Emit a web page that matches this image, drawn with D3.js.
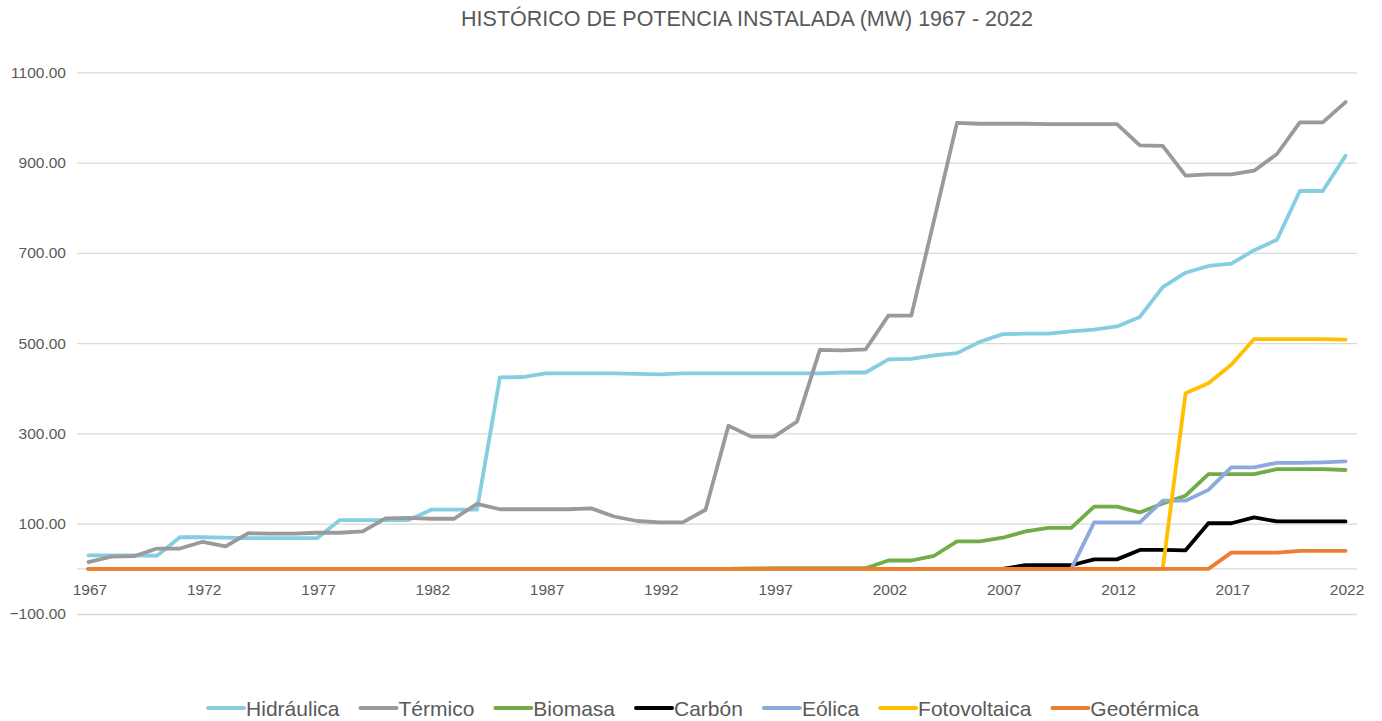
<!DOCTYPE html>
<html>
<head>
<meta charset="utf-8">
<script src="https://cdn.jsdelivr.net/npm/d3@7"></script>
<style>
  html, body { margin: 0; padding: 0; background: #ffffff; }
  svg { display: block; font-family: "Liberation Sans", Arial, sans-serif; }
</style>
</head>
<body>
<svg id="chart" width="1382" height="721"></svg>
<script>
const title = "HISTÓRICO DE POTENCIA INSTALADA (MW) 1967 - 2022";

const years = d3.range(1967, 2023);

const seriesNames = ["Hidráulica", "Térmico", "Biomasa", "Carbón", "Eólica", "Fotovoltaica", "Geotérmica"];
const seriesColors = ["#85cee1", "#9a9a9c", "#70ad47", "#000000", "#8eaadc", "#ffc000", "#ed7d31"];

const hidraulica = [30, 30, 30, 29, 70, 70, 69, 68, 68, 68,
  68, 108, 108, 108, 108, 131, 131, 131, 424, 425,
  433, 433, 433, 433, 432, 431, 433, 433, 433, 433,
  433, 433, 433, 435, 435, 464, 465, 473, 478, 503,
  520, 521, 521, 526, 530, 537, 558, 624, 656, 671,
  676, 706, 729, 837, 837, 915];

const termico = [15, 27, 28, 45, 45, 60, 50, 79, 78, 78,
  80, 80, 83, 112, 113, 111, 111, 144, 132, 132,
  132, 132, 134, 116, 106, 103, 103, 131, 317, 293,
  293, 326, 485, 484, 486, 561, 561, 773, 988, 986,
  986, 986, 985, 985, 985, 985, 938, 937, 871, 874,
  874, 882, 919, 989, 989, 1034];

const biomasa = [0, 0, 0, 0, 0, 0, 0, 0, 0, 0,
  0, 0, 0, 0, 0, 0, 0, 0, 0, 0,
  0, 0, 0, 0, 0, 0, 0, 0, 0, 1,
  1.5, 1.5, 1.5, 1.5, 1.5, 18.5, 18.5, 29, 61, 61,
  69, 83, 91, 91, 138, 138, 125, 145, 162, 210,
  210, 210, 221, 221, 221, 219];

const carbon = [0, 0, 0, 0, 0, 0, 0, 0, 0, 0,
  0, 0, 0, 0, 0, 0, 0, 0, 0, 0,
  0, 0, 0, 0, 0, 0, 0, 0, 0, 0,
  0, 0, 0, 0, 0, 0, 0, 0, 0, 0,
  0, 8, 8, 8, 21, 21, 42, 42, 41, 101,
  101, 114, 105, 105, 105, 105];

const eolica = [0, 0, 0, 0, 0, 0, 0, 0, 0, 0,
  0, 0, 0, 0, 0, 0, 0, 0, 0, 0,
  0, 0, 0, 0, 0, 0, 0, 0, 0, 0,
  0, 0, 0, 0, 0, 0, 0, 0, 0, 0,
  0, 0, 0, 0, 103, 103, 103, 151, 151, 175,
  225, 225, 235, 235, 236, 238];

const fotovoltaica = [0, 0, 0, 0, 0, 0, 0, 0, 0, 0,
  0, 0, 0, 0, 0, 0, 0, 0, 0, 0,
  0, 0, 0, 0, 0, 0, 0, 0, 0, 0,
  0, 0, 0, 0, 0, 0, 0, 0, 0, 0,
  0, 0, 0, 0, 0, 0, 0, 0, 389, 411,
  452, 509, 509, 509, 509, 508];

const geotermica = [0, 0, 0, 0, 0, 0, 0, 0, 0, 0,
  0, 0, 0, 0, 0, 0, 0, 0, 0, 0,
  0, 0, 0, 0, 0, 0, 0, 0, 0, 0,
  0, 0, 0, 0, 0, 0, 0, 0, 0, 0,
  0, 0, 0, 0, 0, 0, 0, 0, 0, 0,
  36, 36, 36, 40, 40, 40];

const yTicks = [-100, 100, 300, 500, 700, 900, 1100];
const xTickYears = [1967, 1972, 1977, 1982, 1987, 1992, 1997, 2002, 2007, 2012, 2017, 2022];

const seriesValues = [hidraulica, termico, biomasa, carbon, eolica, fotovoltaica, geotermica];

// ---------- layout ----------
const W = 1382, H = 721;
const plot = { left: 77, right: 1357, top: 72.3, bottom: 614 };
const svg = d3.select("#chart");
const textColor = "#595959";
const gridColor = "#d9d9d9";

const x = d3.scaleBand().domain(years).range([plot.left, plot.right]).padding(0);
const xc = d => x(d) + x.bandwidth() / 2;
const y = d3.scaleLinear().domain([-100, 1100]).range([plot.bottom, plot.top]);

// title
svg.append("text")
  .attr("x", 747).attr("y", 26)
  .attr("text-anchor", "middle")
  .attr("fill", textColor)
  .style("font-size", "21.5px")
  .text(title);

// gridlines + y labels
const yAxis = d3.axisLeft(y).tickValues(yTicks).tickFormat(d3.format(".2f"))
  .tickSize(-(plot.right - plot.left)).tickPadding(11);
const gy = svg.append("g").attr("transform", `translate(${plot.left},0)`).call(yAxis);
gy.select(".domain").remove();
gy.selectAll(".tick line").attr("stroke", gridColor).attr("stroke-width", 1.3);
gy.selectAll(".tick text").attr("fill", textColor).style("font-size", "15.5px")
  .style("font-family", "'Liberation Sans', Arial, sans-serif");

// zero axis line
svg.append("line")
  .attr("x1", plot.left).attr("x2", plot.right)
  .attr("y1", y(0)).attr("y2", y(0))
  .attr("stroke", gridColor).attr("stroke-width", 1.3);

// x labels
const xAxis = d3.axisBottom(x).tickValues(xTickYears).tickSize(0).tickPadding(0);
const gx = svg.append("g").attr("transform", `translate(1.5,${y(0)})`).call(xAxis);
gx.select(".domain").remove();
gx.selectAll(".tick text")
  .attr("fill", textColor)
  .attr("dy", null)
  .attr("y", 26)
  .style("font-size", "15.5px")
  .style("font-family", "'Liberation Sans', Arial, sans-serif");

// lines
const line = d3.line().x((d, i) => xc(years[i])).y(d => y(d));
seriesValues.forEach((vals, k) => {
  svg.append("path")
    .datum(vals)
    .attr("d", line)
    .attr("fill", "none")
    .attr("stroke", seriesColors[k])
    .attr("stroke-width", 3.8)
    .attr("stroke-linejoin", "round")
    .attr("stroke-linecap", "round");
});

// legend
const legend = svg.append("g");
const lineLen = 36, lineGap = 2, itemGap = 21, legendY = 708;
let cursor = 0;
seriesNames.forEach((name, k) => {
  const g = legend.append("g");
  g.append("line").attr("x1", 0).attr("x2", lineLen).attr("y1", 0).attr("y2", 0)
    .attr("stroke", seriesColors[k]).attr("stroke-width", 4).attr("stroke-linecap", "round");
  const t = g.append("text").attr("x", lineLen + lineGap).attr("y", 7.5)
    .attr("fill", textColor).style("font-size", "21px").text(name);
  const w = t.node().getComputedTextLength();
  g.attr("transform", `translate(${cursor},${legendY})`);
  cursor += lineLen + lineGap + w + itemGap;
});
const totalW = cursor - itemGap;
const start = 703.5 - totalW / 2;
legend.attr("transform", `translate(${start},0)`);
</script>
</body>
</html>
